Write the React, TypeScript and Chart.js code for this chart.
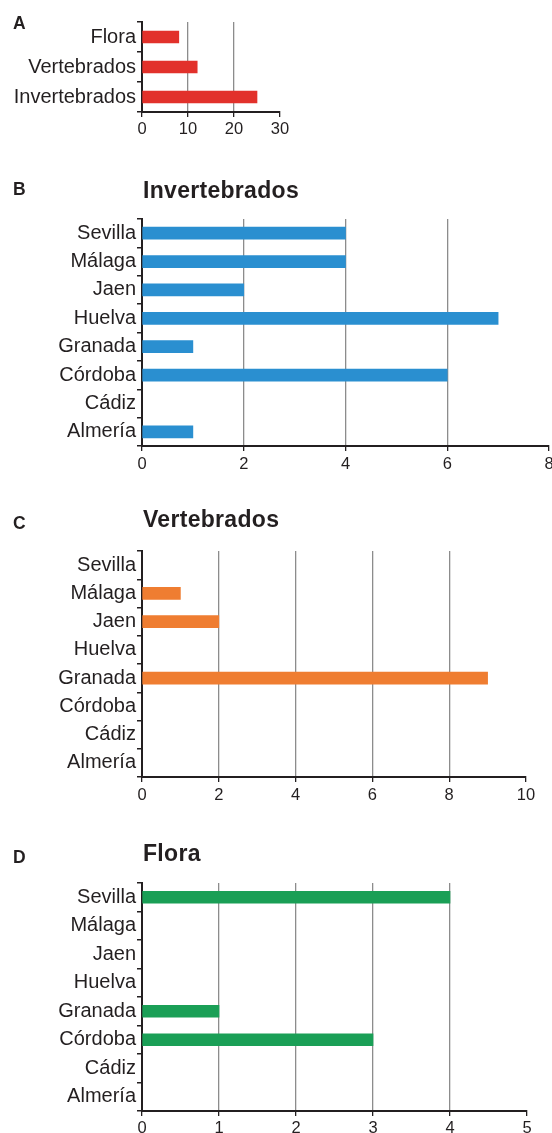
import React, { useEffect, useRef } from 'react';
import { Chart, registerables } from 'chart.js';

Chart.register(...registerables);

const FONT = '"Liberation Sans", Arial, Helvetica, sans-serif';
const TEXT = '#231f20';
const AXIS = '#231f20';
const GRID = '#8c8c8c';

// Panel A
const groupCategories = ['Flora', 'Vertebrados', 'Invertebrados'];
const groupTotals = [8, 12, 25];
const ticksA = [0, 10, 20, 30];

// Panels B-D
const provinces = ['Sevilla', 'Málaga', 'Jaen', 'Huelva', 'Granada', 'Córdoba', 'Cádiz', 'Almería'];
const invertebradosValues = [4, 4, 2, 7, 1, 6, 0, 1];
const vertebradosValues = [0, 1, 2, 0, 9, 0, 0, 0];
const floraValues = [4, 0, 0, 0, 1, 3, 0, 0];
const ticksB = [0, 2, 4, 6, 8];
const ticksC = [0, 2, 4, 6, 8, 10];
const ticksD = [0, 1, 2, 3, 4, 5];

const titles = ['Invertebrados', 'Vertebrados', 'Flora'];
const panelLetters = ['A', 'B', 'C', 'D'];

type PanelProps = {
  labels: string[];
  values: number[];
  ticks: number[];
  color: string;
  top: number;
  height: number;
  padTop: number;
  padRight: number;
  tickPad: number;
};

function BarPanel(p: PanelProps) {
  const ref = useRef<HTMLCanvasElement>(null);
  useEffect(() => {
    const max = p.ticks[p.ticks.length - 1];
    const step = p.ticks[1] - p.ticks[0];
    const chart = new Chart(ref.current as HTMLCanvasElement, {
      type: 'bar',
      data: {
        labels: p.labels,
        datasets: [
          {
            data: p.values,
            backgroundColor: (ctx: any) => (ctx.raw === 0 ? 'rgba(0,0,0,0)' : p.color),
            borderWidth: 0,
            barThickness: 12,
          },
        ],
      },
      options: {
        indexAxis: 'y',
        responsive: false,
        animation: false,
        devicePixelRatio: 1,
        layout: { padding: { left: 0, top: p.padTop, right: p.padRight, bottom: 0 } },
        plugins: {
          legend: { display: false },
          tooltip: { enabled: false },
          title: { display: false },
        },
        scales: {
          x: {
            type: 'linear',
            min: 0,
            max: max,
            ticks: {
              stepSize: step,
              color: TEXT,
              font: { family: FONT, size: 16.5 },
              padding: p.tickPad,
              maxRotation: 0,
              autoSkip: false,
            },
            grid: {
              color: (ctx: any) => {
                const v = ctx.tick ? ctx.tick.value : null;
                return v === 0 || v === max ? 'rgba(0,0,0,0)' : GRID;
              },
              lineWidth: 1.3,
              tickColor: AXIS,
              tickLength: 5,
            },
            border: { color: AXIS, width: 2 },
            afterFit: (s: any) => {
              s.height = 24;
              s.paddingLeft = 0;
              s.paddingRight = 0;
            },
          },
          y: {
            type: 'category',
            offset: true,
            ticks: {
              color: TEXT,
              font: { family: FONT, size: 20 },
              padding: 1,
              autoSkip: false,
            },
            grid: {
              offset: true,
              drawOnChartArea: false,
              color: AXIS,
              tickColor: AXIS,
              tickLength: 5,
              lineWidth: 1.5,
            },
            border: { color: AXIS, width: 2 },
            afterFit: (s: any) => {
              s.width = 142;
              s.paddingTop = 0;
              s.paddingBottom = 0;
            },
          },
        },
      },
    } as any);
    return () => chart.destroy();
  }, []);
  return (
    <canvas
      ref={ref}
      width={552}
      height={p.height}
      style={{ position: 'absolute', left: 0, top: p.top, display: 'block' }}
    />
  );
}

const letterStyle = (top: number): React.CSSProperties => ({
  position: 'absolute',
  left: 13,
  top,
  fontFamily: FONT,
  fontWeight: 'bold',
  fontSize: 17.5,
  lineHeight: '18px',
  color: TEXT,
  margin: 0,
});

const titleStyle = (top: number): React.CSSProperties => ({
  position: 'absolute',
  left: 143,
  top,
  fontFamily: FONT,
  fontWeight: 'bold',
  fontSize: 23,
  lineHeight: '23px',
  letterSpacing: '0.3px',
  color: TEXT,
  margin: 0,
  whiteSpace: 'nowrap',
});

export default function App() {
  return (
    <div
      style={{
        position: 'absolute',
        left: 0,
        top: 0,
        width: 552,
        height: 1133,
        overflow: 'hidden',
        background: '#ffffff',
      }}
    >
      <BarPanel labels={groupCategories} values={groupTotals} ticks={ticksA} color="#e2312b" top={0} height={136} padTop={22} padRight={272} tickPad={3} />
      <BarPanel labels={provinces} values={invertebradosValues} ticks={ticksB} color="#2a8fd0" top={200} height={270} padTop={19} padRight={3} tickPad={4} />
      <BarPanel labels={provinces} values={vertebradosValues} ticks={ticksC} color="#ef7d31" top={530} height={271} padTop={21} padRight={26} tickPad={4} />
      <BarPanel labels={provinces} values={floraValues} ticks={ticksD} color="#1a9f56" top={860} height={275} padTop={23} padRight={25} tickPad={3} />
      <div style={letterStyle(14)}>{panelLetters[0]}</div>
      <div style={letterStyle(180)}>{panelLetters[1]}</div>
      <div style={letterStyle(514)}>{panelLetters[2]}</div>
      <div style={letterStyle(848)}>{panelLetters[3]}</div>
      <div style={titleStyle(179)}>{titles[0]}</div>
      <div style={titleStyle(508)}>{titles[1]}</div>
      <div style={titleStyle(842)}>{titles[2]}</div>
    </div>
  );
}
